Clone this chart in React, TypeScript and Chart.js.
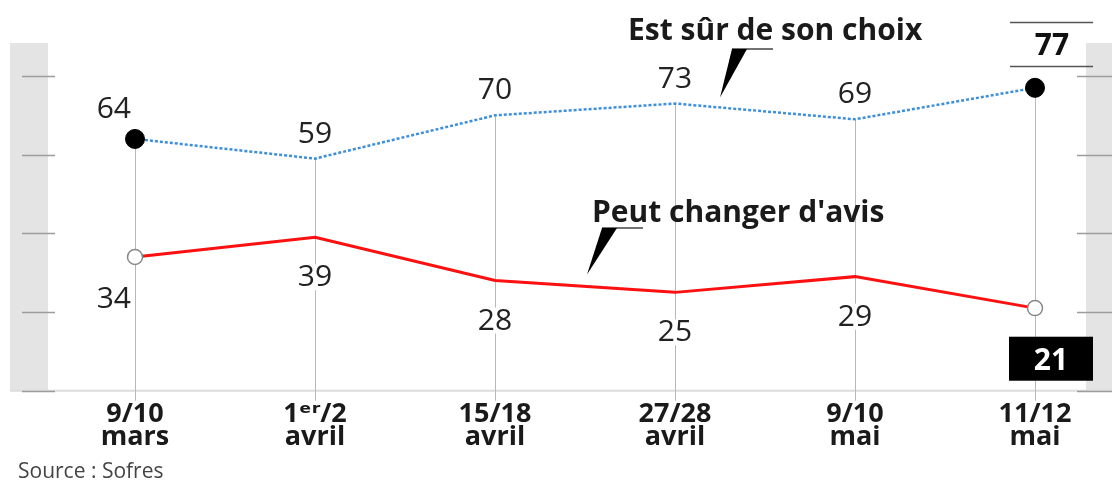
import React, { useEffect, useRef } from "react";
import { Chart, registerables } from "chart.js";

Chart.register(...registerables);

// ---- Data ----
const categories: string[][] = [
  ["9/10", "mars"],
  ["1ᵉʳ/2", "avril"],
  ["15/18", "avril"],
  ["27/28", "avril"],
  ["9/10", "mai"],
  ["11/12", "mai"],
];
const surValues = [64, 59, 70, 73, 69, 77];
const changerValues = [34, 39, 28, 25, 29, 21];
const seriesNames = ["Est sûr de son choix", "Peut changer d'avis"];
const yTickValues = [0, 20, 40, 60, 80];
const sourceText = "Source : Sofres";

const FONT = "'Open Sans', 'DejaVu Sans', sans-serif";
const BLUE = "#3f8fd8";
const RED = "#ff1010";

const decorPlugin = {
  id: "decor",
  beforeDatasetsDraw(chart: any) {
    const { ctx, chartArea, width } = chart;
    const xs = chart.scales.x;
    const ys = chart.scales.y;
    const bottom = chartArea.bottom;
    const bandTop = chartArea.top - 33;
    ctx.save();
    // side bands
    ctx.fillStyle = "#e4e4e4";
    ctx.fillRect(10, bandTop, 38, bottom - bandTop);
    ctx.fillRect(width - 26, bandTop, 26, bottom - bandTop);
    // bottom axis line
    ctx.strokeStyle = "#dcdcdc";
    ctx.lineWidth = 2;
    ctx.beginPath();
    ctx.moveTo(10, bottom);
    ctx.lineTo(width, bottom);
    ctx.stroke();
    // side ticks
    ctx.strokeStyle = "#9c9c9c";
    ctx.lineWidth = 1.5;
    for (const v of yTickValues) {
      const py = Math.round(ys.getPixelForValue(v)) + 0.5;
      ctx.beginPath();
      ctx.moveTo(22, py);
      ctx.lineTo(55, py);
      ctx.moveTo(width - 35, py);
      ctx.lineTo(width, py);
      ctx.stroke();
    }
    // vertical guide lines
    ctx.strokeStyle = "#b8b8b8";
    ctx.lineWidth = 1;
    surValues.forEach((v, i) => {
      const px = Math.round(xs.getPixelForValue(i)) + 0.5;
      ctx.beginPath();
      ctx.moveTo(px, ys.getPixelForValue(v));
      ctx.lineTo(px, bottom + 10);
      ctx.stroke();
    });
    // white patches behind the middle value labels
    ctx.fillStyle = "#ffffff";
    for (let i = 1; i < surValues.length - 1; i++) {
      const px = xs.getPixelForValue(i);
      const pyS = ys.getPixelForValue(surValues[i]);
      const pyC = ys.getPixelForValue(changerValues[i]);
      ctx.fillRect(px - 22, pyS - 42, 44, 26);
      ctx.fillRect(px - 22, pyC + 27, 44, 26);
    }
    // 77 box rules
    const lastX = xs.getPixelForValue(surValues.length - 1);
    ctx.strokeStyle = "#555";
    ctx.lineWidth = 1.5;
    ctx.beginPath();
    ctx.moveTo(lastX - 25, 22.5);
    ctx.lineTo(lastX + 58, 22.5);
    ctx.moveTo(lastX - 25, 66.5);
    ctx.lineTo(lastX + 58, 66.5);
    ctx.stroke();
    // 21 black box
    ctx.fillStyle = "#000";
    ctx.fillRect(lastX - 26, bottom - 54, 84, 44);
    ctx.restore();
  },
  afterDatasetsDraw(chart: any) {
    const { ctx } = chart;
    const xs = chart.scales.x;
    const ys = chart.scales.y;
    const n = surValues.length;
    ctx.save();
    // value labels
    ctx.font = `400 30px ${FONT}`;
    ctx.fillStyle = "#222";
    ctx.textBaseline = "alphabetic";
    for (let i = 0; i < n - 1; i++) {
      const px = xs.getPixelForValue(i);
      const pyS = ys.getPixelForValue(surValues[i]);
      const pyC = ys.getPixelForValue(changerValues[i]);
      if (i === 0) {
        ctx.textAlign = "right";
        ctx.fillText(String(surValues[i]), px - 4, pyS - 21);
        ctx.fillText(String(changerValues[i]), px - 4, pyC + 51);
      } else {
        ctx.textAlign = "center";
        ctx.fillText(String(surValues[i]), px, pyS - 16);
        ctx.fillText(String(changerValues[i]), px, pyC + 49);
      }
    }
    // highlighted last values
    const lastX = xs.getPixelForValue(n - 1);
    ctx.font = `700 30px ${FONT}`;
    ctx.textAlign = "center";
    ctx.fillStyle = "#111";
    ctx.fillText(String(surValues[n - 1]), lastX + 17, 55);
    ctx.fillStyle = "#fff";
    ctx.fillText(String(changerValues[n - 1]), lastX + 16, chart.chartArea.bottom - 21);

    // series labels with pointers
    const drawPointer = (ux: number, uy: number, tipX: number, tipY: number) => {
      ctx.strokeStyle = "#444";
      ctx.lineWidth = 1.5;
      ctx.beginPath();
      ctx.moveTo(ux, uy);
      ctx.lineTo(ux + 41, uy);
      ctx.stroke();
      ctx.fillStyle = "#000";
      ctx.beginPath();
      ctx.moveTo(ux, uy);
      ctx.lineTo(ux + 15, uy);
      ctx.lineTo(tipX, tipY);
      ctx.closePath();
      ctx.fill();
    };
    ctx.font = `700 30px ${FONT}`;
    ctx.textAlign = "left";
    ctx.fillStyle = "#1a1a1a";
    // sûr
    const sx = xs.getPixelForValue(3.25);
    const sy = ys.getPixelForValue(73 + (69 - 73) * 0.25);
    ctx.fillText(seriesNames[0], sx - 92, 40);
    drawPointer(sx + 12, 49, sx, sy - 10);
    // changer
    const cx = xs.getPixelForValue(2.5);
    const cy = ys.getPixelForValue(28 + (25 - 28) * 0.5);
    ctx.fillStyle = "#1a1a1a";
    ctx.fillText(seriesNames[1], cx + 7, 222);
    drawPointer(cx + 17, 228, cx + 2, cy - 12);

    // source
    ctx.font = `400 21px ${FONT}`;
    ctx.fillStyle = "#444";
    ctx.textAlign = "left";
    ctx.fillText(sourceText, 18, 478);
    ctx.restore();
  },
};

export default function App() {
  const ref = useRef<HTMLCanvasElement | null>(null);
  useEffect(() => {
    if (!ref.current) return;
    const last = surValues.length - 1;
    const chart = new Chart(ref.current, {
      type: "line",
      data: {
        labels: categories as any,
        datasets: [
          {
            label: seriesNames[0],
            data: surValues,
            borderColor: BLUE,
            borderWidth: 2.5,
            borderDash: [3, 2],
            tension: 0,
            pointRadius: (c: any) => (c.dataIndex === 0 || c.dataIndex === last ? 9.5 : 0),
            pointBackgroundColor: "#000",
            pointBorderColor: "#000",
            pointBorderWidth: 1,
          },
          {
            label: seriesNames[1],
            data: changerValues,
            borderColor: RED,
            borderWidth: 3,
            tension: 0,
            pointRadius: (c: any) => (c.dataIndex === 0 || c.dataIndex === last ? 7.5 : 0),
            pointBackgroundColor: "#fff",
            pointBorderColor: "#888",
            pointBorderWidth: 1.5,
          },
        ],
      },
      options: {
        animation: false,
        responsive: false,
        devicePixelRatio: 1,
        layout: { padding: { left: 135, right: 77, top: 76, bottom: 24 } },
        plugins: { legend: { display: false }, tooltip: { enabled: false }, title: { display: false } },
        scales: {
          x: {
            type: "category",
            offset: false,
            grid: { display: false, drawTicks: false },
            border: { display: false },
            ticks: {
              padding: 13,
              color: "#1a1a1a",
              autoSkip: false,
              maxRotation: 0,
              font: { family: FONT, size: 27, weight: "bold", lineHeight: 0.82 },
            },
          },
          y: {
            display: false,
            min: 0,
            max: 80,
            ticks: { stepSize: 20 },
          },
        },
      },
      plugins: [decorPlugin],
    });
    return () => chart.destroy();
  }, []);
  return (
    <div style={{ position: "absolute", left: 0, top: 0, width: 1112, height: 485, background: "#fff" }}>
      <canvas ref={ref} width={1112} height={485} style={{ display: "block", width: 1112, height: 485 }} />
    </div>
  );
}
